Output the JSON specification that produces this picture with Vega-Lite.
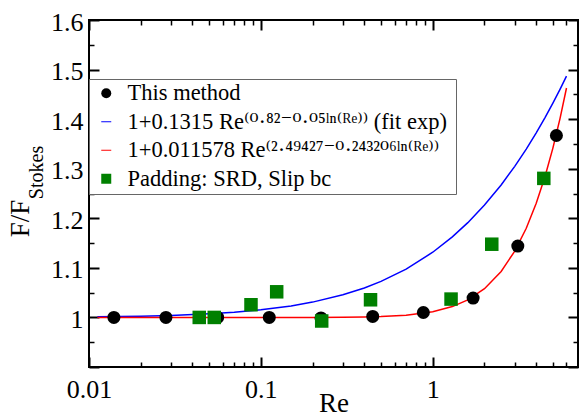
{
  "$schema": "https://vega.github.io/schema/vega-lite/v6.json",
  "autosize": "none",
  "width": 489,
  "height": 347,
  "padding": {"left": 89, "top": 20, "right": 3, "bottom": 51},
  "background": "white",
  "config": {
    "view": {"stroke": "black", "strokeWidth": 2},
    "font": "Liberation Serif",
    "axis": {
      "domain": false, "tickColor": "black", "tickWidth": 1.5,
      "labelFont": "Liberation Serif", "labelFontSize": 26, "labelColor": "black",
      "titleFont": "Liberation Serif", "titleColor": "black", "titleFontWeight": "normal",
      "grid": false, "labelOverlap": false, "labelFlush": false
    }
  },
  "data": {"values": [
    {"series": "method", "Re": 0.01396, "F": 1.0},
    {"series": "method", "Re": 0.02803, "F": 1.0},
    {"series": "method", "Re": 0.05605, "F": 1.0},
    {"series": "method", "Re": 0.1119, "F": 1.0},
    {"series": "method", "Re": 0.2238, "F": 0.999},
    {"series": "method", "Re": 0.4474, "F": 1.002},
    {"series": "method", "Re": 0.8816, "F": 1.010},
    {"series": "method", "Re": 1.717, "F": 1.039},
    {"series": "method", "Re": 3.125, "F": 1.144},
    {"series": "method", "Re": 5.242, "F": 1.367},
    {"series": "padding", "Re": 0.0438, "F": 1.0},
    {"series": "padding", "Re": 0.05356, "F": 1.0},
    {"series": "padding", "Re": 0.0876, "F": 1.0256},
    {"series": "padding", "Re": 0.1236, "F": 1.0517},
    {"series": "padding", "Re": 0.2259, "F": 0.9928},
    {"series": "padding", "Re": 0.4345, "F": 1.0356},
    {"series": "padding", "Re": 1.278, "F": 1.037},
    {"series": "padding", "Re": 2.205, "F": 1.1477},
    {"series": "padding", "Re": 4.427, "F": 1.2805},
    {"series": "fit_exp", "Re": 0.0112, "F": 1.0012},
    {"series": "fit_exp", "Re": 0.02, "F": 1.0025},
    {"series": "fit_exp", "Re": 0.03, "F": 1.0040},
    {"series": "fit_exp", "Re": 0.05, "F": 1.0072},
    {"series": "fit_exp", "Re": 0.07, "F": 1.0104},
    {"series": "fit_exp", "Re": 0.1, "F": 1.0153},
    {"series": "fit_exp", "Re": 0.15, "F": 1.0232},
    {"series": "fit_exp", "Re": 0.2, "F": 1.0309},
    {"series": "fit_exp", "Re": 0.3, "F": 1.0456},
    {"series": "fit_exp", "Re": 0.4, "F": 1.0595},
    {"series": "fit_exp", "Re": 0.5, "F": 1.0727},
    {"series": "fit_exp", "Re": 0.7, "F": 1.0975},
    {"series": "fit_exp", "Re": 1.0, "F": 1.1315},
    {"series": "fit_exp", "Re": 1.3, "F": 1.1625},
    {"series": "fit_exp", "Re": 1.6, "F": 1.1912},
    {"series": "fit_exp", "Re": 2.0, "F": 1.2266},
    {"series": "fit_exp", "Re": 2.5, "F": 1.2673},
    {"series": "fit_exp", "Re": 3.0, "F": 1.3048},
    {"series": "fit_exp", "Re": 3.5, "F": 1.3396},
    {"series": "fit_exp", "Re": 4.0, "F": 1.3723},
    {"series": "fit_exp", "Re": 4.5, "F": 1.4031},
    {"series": "fit_exp", "Re": 5.0, "F": 1.4324},
    {"series": "fit_exp", "Re": 5.5, "F": 1.4602},
    {"series": "fit_exp", "Re": 6.0, "F": 1.4867},
    {"series": "fit", "Re": 0.0112, "F": 1.0},
    {"series": "fit", "Re": 0.05, "F": 1.0},
    {"series": "fit", "Re": 0.1, "F": 1.00001},
    {"series": "fit", "Re": 0.15, "F": 1.00004},
    {"series": "fit", "Re": 0.2, "F": 1.0001},
    {"series": "fit", "Re": 0.3, "F": 1.0004},
    {"series": "fit", "Re": 0.4, "F": 1.0010},
    {"series": "fit", "Re": 0.5, "F": 1.0018},
    {"series": "fit", "Re": 0.7, "F": 1.0046},
    {"series": "fit", "Re": 1.0, "F": 1.0116},
    {"series": "fit", "Re": 1.3, "F": 1.0219},
    {"series": "fit", "Re": 1.6, "F": 1.0354},
    {"series": "fit", "Re": 2.0, "F": 1.0580},
    {"series": "fit", "Re": 2.5, "F": 1.0928},
    {"series": "fit", "Re": 3.0, "F": 1.1337},
    {"series": "fit", "Re": 3.5, "F": 1.1799},
    {"series": "fit", "Re": 4.0, "F": 1.2303},
    {"series": "fit", "Re": 4.5, "F": 1.2844},
    {"series": "fit", "Re": 5.0, "F": 1.3416},
    {"series": "fit", "Re": 5.5, "F": 1.4011},
    {"series": "fit", "Re": 6.0, "F": 1.4628}
  ]},
  "resolve": {"axis": {"x": "independent", "y": "independent"}},
  "layer": [
    {
      "transform": [{"filter": "datum.series == 'fit_exp'"}],
      "mark": {"type": "line", "color": "#0000ff", "strokeWidth": 1.5},
      "encoding": {
        "x": {"field": "Re", "type": "quantitative",
          "scale": {"type": "log", "domain": [0.01, 7], "nice": false},
          "axis": {"orient": "bottom", "values": [0.01, 0.1, 1],
            "labelExpr": "datum.value == 0.01 ? '0.01' : datum.value == 0.1 ? '0.1' : '1'",
            "offset": -10, "tickSize": 10, "tickWidth": 2, "labelPadding": 9,
            "title": "Re", "titleFontSize": 27, "titleBaseline": "alphabetic", "titleY": 54}},
        "y": {"field": "F", "type": "quantitative",
          "scale": {"domain": [0.9, 1.6], "zero": false, "nice": false},
          "axis": {"orient": "left", "values": [0.9, 1, 1.1, 1.2, 1.3, 1.4, 1.5, 1.6],
            "labelExpr": "datum.value > 0.95 ? format(datum.value, '.1~f') : ''",
            "offset": -10, "tickSize": 10, "tickWidth": 2, "labelPadding": 6, "labelOffset": 2,
            "title": "F/F", "titleFontSize": 27, "titleAngle": -90, "titleAlign": "center", "titleBaseline": "middle",
            "titleX": -79, "titleY": 198}}
      }
    },
    {
      "transform": [{"filter": "datum.series == 'fit'"}],
      "mark": {"type": "line", "color": "#ff0000", "strokeWidth": 1.5},
      "encoding": {
        "x": {"field": "Re", "type": "quantitative",
          "axis": {"orient": "top", "values": [0.01, 0.1, 1], "labels": false, "offset": -10, "tickSize": 10, "tickWidth": 2, "title": null}},
        "y": {"field": "F", "type": "quantitative",
          "axis": {"orient": "right", "values": [0.9, 1, 1.1, 1.2, 1.3, 1.4, 1.5, 1.6], "labels": false, "offset": -10, "tickSize": 10, "tickWidth": 2,
            "title": "Stokes", "titleFontSize": 20, "titleAngle": -90, "titleAlign": "center", "titleBaseline": "middle",
            "titleX": -532, "titleY": 152}}
      }
    },
    {
      "transform": [{"filter": "datum.series == 'method'"}],
      "mark": {"type": "point", "filled": true, "opacity": 1},
      "encoding": {
        "x": {"field": "Re", "type": "quantitative",
          "axis": {"orient": "bottom", "values": [0.02,0.03,0.04,0.05,0.06,0.07,0.08,0.09,0.2,0.3,0.4,0.5,0.6,0.7,0.8,0.9,2,3,4,5,6],
            "labels": false, "offset": -5, "tickSize": 5, "title": null}},
        "y": {"field": "F", "type": "quantitative",
          "axis": {"orient": "left", "values": [0.95, 1.05, 1.15, 1.25, 1.35, 1.45, 1.55],
            "labels": false, "offset": -5, "tickSize": 5, "title": null}},
        "color": {"field": "series", "type": "nominal",
          "scale": {"domain": ["method", "fit_exp", "fit", "padding"], "range": ["#000000", "#0000ff", "#ff0000", "#008000"]},
          "legend": {
            "title": null, "orient": "none", "legendX": 0, "legendY": 59,
            "fillColor": "white", "strokeColor": "#666666", "padding": 3,
            "labelFont": "Liberation Serif, DejaVu Serif", "labelFontSize": 22.5, "labelColor": "black", "labelLimit": 500,
            "labelOffset": 10, "rowPadding": 5.5, "symbolOffset": 3,
            "labelExpr": "datum.value == 'method' ? 'This method' : datum.value == 'fit_exp' ? '1+0.1315 Re⁽⁰·⁸²⁻⁰·⁰⁵ˡⁿ⁽ᴿᵉ⁾⁾  (fit exp)' : datum.value == 'fit' ? '1+0.011578 Re⁽²·⁴⁹⁴²⁷⁻⁰·²⁴³²⁰⁶ˡⁿ⁽ᴿᵉ⁾⁾' : 'Padding: SRD, Slip bc'",
            "encode": {"legend": {"update": {"strokeWidth": {"value": 2}}}}
          }},
        "shape": {"field": "series", "type": "nominal",
          "scale": {"domain": ["method", "fit_exp", "fit", "padding"], "range": ["circle", "M-1,-0.1H1V0.1H-1Z", "M-1,-0.1H1V0.1H-1Z", "square"]}},
        "size": {"field": "series", "type": "nominal",
          "scale": {"type": "ordinal", "domain": ["method", "fit_exp", "fit", "padding"], "range": [169, 324, 324, 121]}}
      }
    },
    {
      "transform": [{"filter": "datum.series == 'padding'"}],
      "mark": {"type": "point", "filled": true, "opacity": 1},
      "encoding": {
        "x": {"field": "Re", "type": "quantitative",
          "axis": {"orient": "top", "values": [0.02,0.03,0.04,0.05,0.06,0.07,0.08,0.09,0.2,0.3,0.4,0.5,0.6,0.7,0.8,0.9,2,3,4,5,6],
            "labels": false, "offset": -5, "tickSize": 5, "title": null}},
        "y": {"field": "F", "type": "quantitative",
          "axis": {"orient": "right", "values": [0.95, 1.05, 1.15, 1.25, 1.35, 1.45, 1.55],
            "labels": false, "offset": -5, "tickSize": 5, "title": null}},
        "color": {"field": "series", "type": "nominal"},
        "shape": {"field": "series", "type": "nominal"},
        "size": {"field": "series", "type": "nominal"}
      }
    }
  ]
}
